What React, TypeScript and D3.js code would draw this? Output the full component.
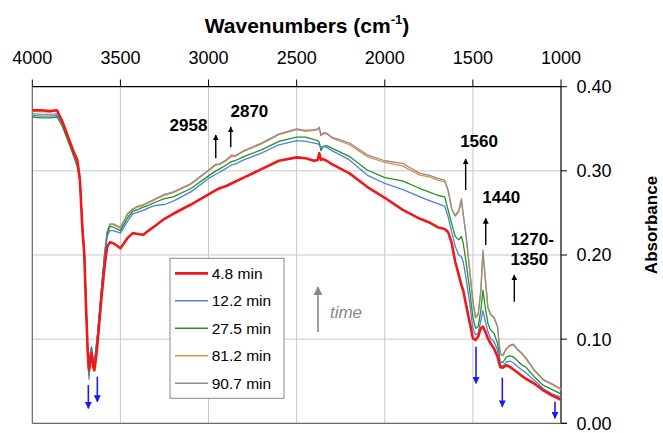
import React from "react";
import * as d3 from "d3";

const wavenumbers = [4000, 3950, 3900, 3860, 3830, 3800, 3770, 3745, 3730, 3715, 3705, 3695, 3685, 3678, 3670, 3664, 3655, 3648, 3640, 3630, 3620, 3605, 3590, 3575, 3560, 3540, 3500, 3460, 3430, 3400, 3370, 3340, 3300, 3250, 3200, 3100, 3000, 2958, 2940, 2900, 2870, 2850, 2800, 2700, 2600, 2500, 2450, 2400, 2380, 2372, 2362, 2350, 2330, 2300, 2200, 2100, 2000, 1900, 1800, 1750, 1700, 1660, 1640, 1620, 1600, 1580, 1565, 1555, 1540, 1520, 1500, 1485, 1470, 1455, 1443, 1430, 1415, 1400, 1380, 1360, 1345, 1330, 1310, 1290, 1270, 1250, 1220, 1200, 1150, 1100, 1050, 1000];

const red48 = [0.372, 0.372, 0.371, 0.372, 0.359, 0.342, 0.325, 0.313, 0.290, 0.228,
  0.202, 0.138, 0.083, 0.063, 0.079, 0.083, 0.067, 0.063, 0.075, 0.095,
  0.119, 0.155, 0.186, 0.210, 0.215, 0.214, 0.208, 0.220, 0.226, 0.225,
  0.224, 0.229, 0.235, 0.243, 0.249, 0.260, 0.272, 0.277, 0.279, 0.282,
  0.285, 0.287, 0.292, 0.302, 0.312, 0.316, 0.315, 0.312, 0.313, 0.321,
  0.313, 0.314, 0.312, 0.308, 0.297, 0.281, 0.268, 0.254, 0.243, 0.239,
  0.233, 0.231, 0.227, 0.214, 0.192, 0.176, 0.164, 0.158, 0.142, 0.122,
  0.101, 0.099, 0.103, 0.113, 0.115, 0.109, 0.101, 0.095, 0.089, 0.079,
  0.067, 0.066, 0.069, 0.067, 0.064, 0.061, 0.056, 0.053, 0.047, 0.039, 0.033, 0.028];

const blue122 = [0.366, 0.365, 0.365, 0.366, 0.356, 0.341, 0.323, 0.310, 0.289, 0.230,
  0.203, 0.140, 0.080, 0.058, 0.083, 0.089, 0.074, 0.071, 0.084, 0.104,
  0.127, 0.164, 0.198, 0.222, 0.229, 0.229, 0.226, 0.240, 0.249, 0.251,
  0.253, 0.256, 0.259, 0.260, 0.264, 0.275, 0.291, 0.296, 0.298, 0.303,
  0.307, 0.308, 0.313, 0.321, 0.331, 0.336, 0.335, 0.333, 0.332, 0.331,
  0.328, 0.329, 0.328, 0.324, 0.313, 0.295, 0.285, 0.278, 0.269, 0.265,
  0.261, 0.258, 0.245, 0.227, 0.210, 0.200, 0.198, 0.192, 0.174, 0.146,
  0.113, 0.105, 0.107, 0.122, 0.134, 0.122, 0.109, 0.101, 0.097, 0.087,
  0.069, 0.068, 0.073, 0.074, 0.072, 0.068, 0.063, 0.060, 0.051, 0.041, 0.035, 0.031];

const green275 = [0.364, 0.363, 0.363, 0.364, 0.353, 0.337, 0.320, 0.305, 0.287, 0.235,
  0.205, 0.141, 0.081, 0.058, 0.084, 0.090, 0.075, 0.072, 0.085, 0.105,
  0.128, 0.165, 0.200, 0.226, 0.234, 0.233, 0.229, 0.244, 0.252, 0.254,
  0.257, 0.259, 0.263, 0.267, 0.269, 0.279, 0.294, 0.300, 0.302, 0.307,
  0.311, 0.312, 0.317, 0.325, 0.335, 0.340, 0.340, 0.337, 0.336, 0.334,
  0.324, 0.329, 0.330, 0.327, 0.317, 0.301, 0.292, 0.288, 0.279, 0.275,
  0.271, 0.269, 0.253, 0.237, 0.222, 0.218, 0.222, 0.214, 0.194, 0.162,
  0.126, 0.113, 0.115, 0.134, 0.158, 0.138, 0.119, 0.111, 0.107, 0.095,
  0.073, 0.072, 0.079, 0.080, 0.079, 0.075, 0.069, 0.067, 0.055, 0.045, 0.040, 0.035];

const orange812 = [0.371, 0.370, 0.370, 0.372, 0.360, 0.342, 0.325, 0.312, 0.290, 0.229,
  0.203, 0.139, 0.078, 0.055, 0.084, 0.090, 0.075, 0.072, 0.085, 0.105,
  0.128, 0.165, 0.200, 0.227, 0.236, 0.236, 0.232, 0.248, 0.254, 0.257,
  0.259, 0.262, 0.266, 0.271, 0.274, 0.284, 0.300, 0.307, 0.307, 0.312,
  0.317, 0.317, 0.323, 0.332, 0.343, 0.349, 0.347, 0.348, 0.349, 0.351,
  0.342, 0.344, 0.344, 0.339, 0.331, 0.317, 0.310, 0.306, 0.295, 0.293,
  0.289, 0.287, 0.276, 0.254, 0.246, 0.251, 0.264, 0.248, 0.225, 0.185,
  0.145, 0.125, 0.129, 0.156, 0.202, 0.172, 0.137, 0.129, 0.125, 0.114,
  0.082, 0.080, 0.088, 0.092, 0.093, 0.088, 0.082, 0.077, 0.062, 0.051, 0.046, 0.040];

const gray907 = [0.368, 0.367, 0.367, 0.368, 0.358, 0.342, 0.325, 0.312, 0.290, 0.228,
  0.202, 0.138, 0.075, 0.052, 0.085, 0.091, 0.076, 0.073, 0.086, 0.106,
  0.129, 0.166, 0.201, 0.228, 0.237, 0.237, 0.233, 0.249, 0.255, 0.258,
  0.260, 0.263, 0.267, 0.272, 0.275, 0.285, 0.301, 0.308, 0.308, 0.313,
  0.319, 0.318, 0.324, 0.333, 0.344, 0.350, 0.348, 0.349, 0.350, 0.352,
  0.342, 0.345, 0.345, 0.340, 0.333, 0.319, 0.312, 0.309, 0.297, 0.295,
  0.291, 0.289, 0.277, 0.255, 0.247, 0.253, 0.267, 0.249, 0.226, 0.186,
  0.146, 0.126, 0.130, 0.158, 0.206, 0.174, 0.138, 0.130, 0.126, 0.115,
  0.083, 0.081, 0.089, 0.093, 0.094, 0.089, 0.083, 0.078, 0.063, 0.052, 0.047, 0.041];

const seriesNames = ["4.8 min", "12.2 min", "27.5 min", "81.2 min", "90.7 min"];
const seriesValues = [red48, blue122, green275, orange812, gray907];
const seriesColors = ["#f01818", "#4a7fe8", "#1f951f", "#ec8a45", "#8e8e8e"];
const seriesWidths = [2.6, 1.3, 1.3, 1.3, 1.3];

const xTicks = [4000, 3500, 3000, 2500, 2000, 1500, 1000];
const yTicks = [0, 0.1, 0.2, 0.3, 0.4];

// annotation labels (wavenumber, absorbance)
const peakLabels = [
  { text: "2958", wn: 3114, a: 0.3477, anchor: "middle" },
  { text: "2870", wn: 2768, a: 0.3643, anchor: "middle" },
  { text: "1560", wn: 1465, a: 0.3287, anchor: "middle" },
  { text: "1440", wn: 1339, a: 0.2614, anchor: "middle" },
  { text: "1270-", wn: 1287, a: 0.2119, anchor: "start" },
  { text: "1350", wn: 1287, a: 0.1881, anchor: "start" },
];
const upArrows = [
  { wn: 2959, a0: 0.315, a1: 0.3426 },
  { wn: 2874, a0: 0.328, a1: 0.352 },
  { wn: 1541, a0: 0.2772, a1: 0.3141 },
  { wn: 1427, a0: 0.2119, a1: 0.2436 },
  { wn: 1265, a0: 0.1445, a1: 0.1762 },
];
const downArrows = [
  { wn: 3682, a0: 0.0455, a1: 0.0178 },
  { wn: 3631, a0: 0.0554, a1: 0.0257 },
  { wn: 1482, a0: 0.091, a1: 0.0475 },
  { wn: 1333, a0: 0.0542, a1: 0.0197 },
  { wn: 1034, a0: 0.0257, a1: 0.0059 },
];
const timeArrow = { wn: 2379, a0: 0.1085, a1: 0.162 };
const timeLabel = { wn: 2311, a: 0.1251 };

const W = 663;
const H = 433;
const L = 32.3, R = 561, T = 86.7, B = 423.3;
const FONT = "'Liberation Sans', Arial, Helvetica, sans-serif";

export default function App() {
  const x = d3.scaleLinear().domain([4000, 1000]).range([L, R]);
  const y = d3.scaleLinear().domain([0, 0.4]).range([B, T]);
  const line = d3
    .line<number>()
    .x((_, i) => x(wavenumbers[i]))
    .y((d) => y(d));

  const drawOrder = [3, 4, 2, 1, 0];
  const legendX = 170, legendY = 258.3, legendW = 114, legendH = 140;
  const rowY = (i: number) => 273.3 + i * 27.5;

  return (
    <svg
      width={W}
      height={H}
      viewBox={`0 0 ${W} ${H}`}
      style={{ position: "absolute", left: 0, top: 0, background: "#fff" }}
      fontFamily={FONT}
    >
      <defs>
        <marker id="ahBlack" viewBox="0 0 10 10" refX="9" refY="5" markerWidth="6" markerHeight="7" markerUnits="userSpaceOnUse" orient="auto">
          <path d="M0,0 L10,5 L0,10 z" fill="#000" />
        </marker>
        <marker id="ahBlue" viewBox="0 0 10 10" refX="9" refY="5" markerWidth="7" markerHeight="7" markerUnits="userSpaceOnUse" orient="auto">
          <path d="M0,0 L10,5 L0,10 z" fill="#1a1aee" />
        </marker>
        <marker id="ahGray" viewBox="0 0 10 10" refX="9" refY="5" markerWidth="10" markerHeight="9" markerUnits="userSpaceOnUse" orient="auto">
          <path d="M0,0 L10,5 L0,10 z" fill="#888" />
        </marker>
      </defs>
      <rect x={0} y={0} width={W} height={H} fill="#fff" />

      {/* grid */}
      {xTicks.slice(1, -1).map((t) => (
        <line key={"gx" + t} x1={x(t)} x2={x(t)} y1={T} y2={B} stroke="#c8c8c8" strokeWidth={1} />
      ))}
      {yTicks.slice(1, -1).map((t) => (
        <line key={"gy" + t} x1={L} x2={R} y1={y(t)} y2={y(t)} stroke="#c8c8c8" strokeWidth={1} />
      ))}

      {/* frame */}
      <line x1={L} x2={R} y1={T} y2={T} stroke="#000" strokeWidth={1.2} />
      <line x1={R} x2={R} y1={T} y2={B} stroke="#000" strokeWidth={1.2} />
      <line x1={L} x2={567} y1={B} y2={B} stroke="#666" strokeWidth={1.2} />
      <line x1={L} x2={L} y1={T} y2={B} stroke="#666" strokeWidth={1.2} />

      {/* top axis */}
      {xTicks.map((t) => (
        <g key={"tx" + t}>
          <line x1={x(t)} x2={x(t)} y1={79.5} y2={T} stroke="#000" strokeWidth={1} />
          <text x={x(t)} y={64} textAnchor="middle" fontSize={18} fill="#000">
            {t}
          </text>
        </g>
      ))}
      <text x={307} y={33} textAnchor="middle" fontSize={21} fontWeight="bold" fill="#000">
        Wavenumbers (cm
        <tspan fontSize={13} dy={-9}>-1</tspan>
        <tspan dy={9}>)</tspan>
      </text>

      {/* right axis */}
      {yTicks.map((t) => (
        <g key={"ty" + t}>
          <line x1={R} x2={567} y1={y(t)} y2={y(t)} stroke="#000" strokeWidth={1} />
          <text x={576.5} y={y(t)} dy="0.36em" fontSize={18} fill="#000">
            {t.toFixed(2)}
          </text>
        </g>
      ))}
      <text
        transform={`translate(657, 225) rotate(-90)`}
        textAnchor="middle"
        fontSize={17}
        fontWeight="bold"
        fill="#000"
      >
        Absorbance
      </text>

      {/* series */}
      {drawOrder.map((i) => (
        <path
          key={"s" + i}
          d={line(seriesValues[i]) || ""}
          fill="none"
          stroke={seriesColors[i]}
          strokeWidth={seriesWidths[i]}
          strokeLinejoin="round"
        />
      ))}

      {/* annotations */}
      {peakLabels.map((p, i) => (
        <text key={"pl" + i} x={x(p.wn)} y={y(p.a)} textAnchor={p.anchor} fontSize={17} fontWeight="bold" fill="#000">
          {p.text}
        </text>
      ))}
      {upArrows.map((a, i) => (
        <line key={"ua" + i} x1={x(a.wn)} x2={x(a.wn)} y1={y(a.a0)} y2={y(a.a1)} stroke="#000" strokeWidth={1.4} markerEnd="url(#ahBlack)" />
      ))}
      {downArrows.map((a, i) => (
        <line key={"da" + i} x1={x(a.wn)} x2={x(a.wn)} y1={y(a.a0)} y2={y(a.a1)} stroke="#1a1aee" strokeWidth={1.6} markerEnd="url(#ahBlue)" />
      ))}
      <line x1={x(timeArrow.wn)} x2={x(timeArrow.wn)} y1={y(timeArrow.a0)} y2={y(timeArrow.a1)} stroke="#888" strokeWidth={1.6} markerEnd="url(#ahGray)" />
      <text x={x(timeLabel.wn)} y={y(timeLabel.a)} fontSize={17} fontStyle="italic" fill="#888">
        time
      </text>

      {/* legend */}
      <rect x={legendX} y={legendY} width={legendW} height={legendH} fill="#fff" stroke="#888" strokeWidth={1} />
      {seriesNames.map((n, i) => (
        <g key={"lg" + i}>
          <line x1={175} x2={208} y1={rowY(i)} y2={rowY(i)} stroke={seriesColors[i]} strokeWidth={i === 0 ? 2.8 : 1.5} />
          <text x={211.7} y={rowY(i)} dy="0.36em" fontSize={15.5} fill="#000">
            {n}
          </text>
        </g>
      ))}
    </svg>
  );
}
